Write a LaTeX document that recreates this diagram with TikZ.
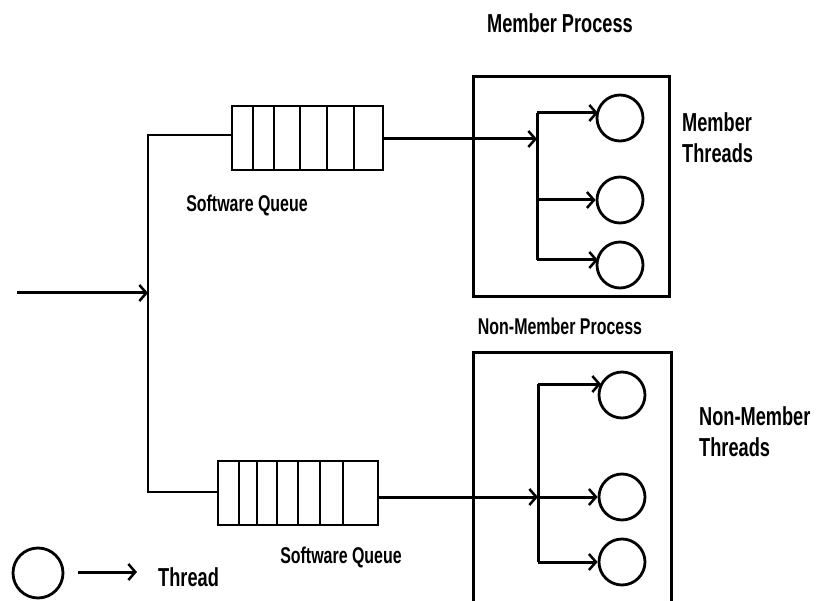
\documentclass[tikz,border=0pt]{standalone}
\usepackage{fontspec}
\setmainfont{Liberation Sans}
\newfontfamily\pixfont[FakeStretch=0.7]{Liberation Sans Bold}
\usetikzlibrary{arrows.meta}
\tikzset{
  thin line/.style={line width=1.8pt},
  thick line/.style={line width=3pt},
  arr/.style={thick line,-{Straight Barb[length=7pt,width=16pt,line width=2.5pt]}},
  queue/.style={draw,thin line,rectangle,inner sep=0pt},
  thread/.style={draw,line width=2.8pt,circle,minimum size=46pt,inner sep=0pt},
  procbox/.style={draw,thick line},
  lbl/.style={font=\pixfont\fontsize{22.8}{26}\selectfont,inner sep=0pt},
  biglbl/.style={font=\pixfont\fontsize{26}{31}\selectfont,inner sep=0pt,align=left}
}
\begin{document}
\begin{tikzpicture}[x=1pt,y=-1pt]
\useasboundingbox (0,0) rectangle (819,601);
\clip (0,0) rectangle (819,601);
% queues
\node[queue,minimum width=151pt,minimum height=64pt] (q1) at (307.5,138) {};
\foreach \x in {253,274,300,327,354} \draw[thin line] (\x,106) -- (\x,170);
\node[queue,minimum width=160pt,minimum height=64pt] (q2) at (298,493) {};
\foreach \x in {239,257,277,298,320,343} \draw[thin line] (\x,461) -- (\x,525);
% process boxes
\draw[procbox] (473,77) rectangle (669,297);
\draw[procbox] (473,353) rectangle (671,610);
% threads
\node[thread] (t1) at (620,118) {};
\node[thread] (t2) at (620,200) {};
\node[thread] (t3) at (620,265) {};
\node[thread] (t4) at (622,395) {};
\node[thread] (t5) at (622,497) {};
\node[thread] (t6) at (622,562) {};
\node[thread,minimum size=50pt] (leg) at (38,573) {};
% input and split
\coordinate (in) at (17,293);
\coordinate (sp) at (148,293);
\coordinate (top) at (148,135);
\coordinate (bot) at (148,492);
\draw[arr] (in) -- (sp);
\draw[thin line] (top -| q1.west) -- (top) -- (bot) -- (bot -| q2.west);
% top branch
\coordinate (b1a) at (537,113);
\coordinate (b1b) at (537,139);
\coordinate (b1c) at (537,200);
\coordinate (b1d) at (537,260);
\draw[arr] (b1b -| q1.east) -- (b1b);
\draw[thick line] (b1a) -- (b1d);
\draw[arr] (b1a) -- (598,113);
\draw[arr] (b1c) -- (t2.west);
\draw[arr] (b1d) -- (598,260);
% bottom branch
\coordinate (b2a) at (538,384);
\coordinate (b2b) at (538,497);
\coordinate (b2d) at (538,562);
\draw[arr] (b2b -| q2.east) -- (b2b);
\draw[thick line] (b2a) -- (b2d);
\draw[arr] (b2a) -- (601,384);
\draw[arr] (b2b) -- (t5.west);
\draw[arr] (b2d) -- (t6.west);
% legend
\coordinate (la) at (78,572);
\coordinate (lb) at (137,572);
\draw[arr] (la) -- (lb);
% labels
\node[biglbl] (mp) at (560,23) {Member Process};
\node[biglbl,anchor=west] (mt) at (682,138) {Member\\Threads};
\node[lbl] (sq1) at (247,205) {Software Queue};
\node[lbl] (sq2) at (341,557) {Software Queue};
\node[lbl] (nmp) at (560,326) {Non-Member Process};
\node[biglbl,anchor=west] (nmt) at (699,432) {Non-Member\\Threads};
\node[biglbl,anchor=west] (th) at (158,577) {Thread};
\end{tikzpicture}
\end{document}
